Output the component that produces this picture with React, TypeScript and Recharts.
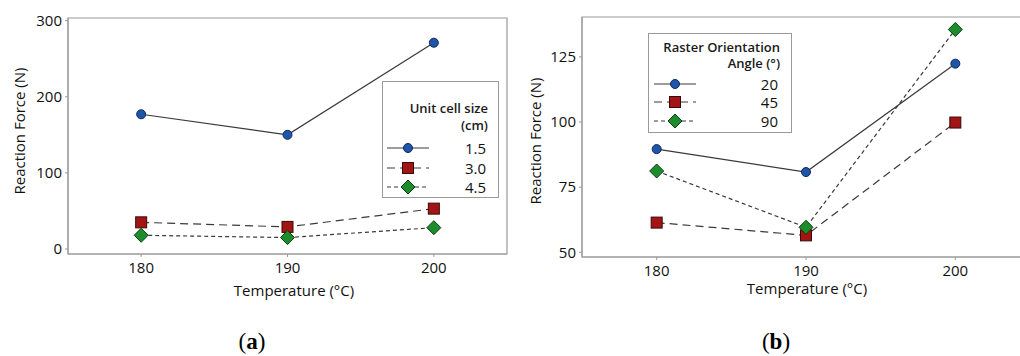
import React from 'react';
import { LineChart, Line, XAxis, YAxis, ReferenceArea } from 'recharts';

const temperatures = [180, 190, 200];
const tempTicks = [180, 190, 200];

// Panel (a): unit cell size (cm)
const cellSizeLabels = ['1.5', '3.0', '4.5'];
const cell15 = [177, 150, 271];
const cell30 = [35, 29, 53];
const cell45 = [18, 15, 28];
const forceTicksA = [0, 100, 200, 300];

// Panel (b): raster orientation angle (°)
const angleLabels = ['20', '45', '90'];
const angle20 = [89.6, 80.8, 122.4];
const angle45 = [61.4, 56.5, 99.8];
const angle90 = [81.2, 59.6, 135.5];
const forceTicksB = [50, 75, 100, 125];

const dataA = temperatures.map((t, i) => ({ t, s1: cell15[i], s2: cell30[i], s3: cell45[i] }));
const dataB = temperatures.map((t, i) => ({ t, s1: angle20[i], s2: angle45[i], s3: angle90[i] }));

const FONT = '"Open Sans", "DejaVu Sans", sans-serif';
const LINE = '#3a3a3a';
const FRAME = '#9a9a9a';

const BLUE = '#1f55a8';
const RED = '#a31515';
const GREEN = '#1d8c2c';

const CircleDot = (p: any) =>
  p.cx == null ? null : (
    <circle key={p.key} cx={p.cx} cy={p.cy} r={4.5} fill={BLUE} stroke="#0c2a5c" strokeWidth={1} />
  );
const SquareDot = (p: any) =>
  p.cx == null ? null : (
    <rect key={p.key} x={p.cx - 5.5} y={p.cy - 5.5} width={11} height={11} fill={RED} stroke="#3a0808" strokeWidth={1} />
  );
const DiamondDot = (p: any) =>
  p.cx == null ? null : (
    <polygon
      key={p.key}
      points={`${p.cx},${p.cy - 7} ${p.cx + 7},${p.cy} ${p.cx},${p.cy + 7} ${p.cx - 7},${p.cy}`}
      fill={GREEN}
      stroke="#0b3d12"
      strokeWidth={1}
    />
  );

const dashes = [undefined, '8 5', '4 3'];
const dots = [CircleDot, SquareDot, DiamondDot];

const tickStyle = { fontFamily: FONT, fontSize: 15, fill: '#111' };

function Panel({ data, domain, yTicks, width, margin }: any) {
  return (
    <LineChart width={width} height={356} data={data} margin={margin}>
      <ReferenceArea x1={175} x2={205} y1={domain[0]} y2={domain[1]} fill="none" stroke={FRAME} strokeWidth={1.2} />
      <XAxis
        dataKey="t"
        type="number"
        domain={[175, 205]}
        ticks={tempTicks}
        height={30}
        stroke={FRAME}
        tickSize={3}
        tickMargin={5}
        tick={tickStyle}
        allowDataOverflow
      />
      <YAxis
        type="number"
        domain={domain}
        ticks={yTicks}
        width={40}
        stroke={FRAME}
        tickSize={3}
        tickMargin={3}
        tick={tickStyle}
        allowDataOverflow
      />
      {['s1', 's2', 's3'].map((k, i) => (
        <Line
          key={k}
          dataKey={k}
          stroke={LINE}
          strokeWidth={1.2}
          strokeDasharray={dashes[i]}
          dot={dots[i]}
          activeDot={false}
          isAnimationActive={false}
        />
      ))}
    </LineChart>
  );
}

function LegendSample({ i }: { i: number }) {
  const Dot = dots[i];
  return (
    <svg width={44} height={14} style={{ display: 'block' }}>
      <line x1={1} y1={7} x2={43} y2={7} stroke={LINE} strokeWidth={1.2} strokeDasharray={dashes[i]} />
      {Dot({ cx: 22, cy: 7 })}
    </svg>
  );
}

function LegendBox({ left, top, width, height, title, labels, valueRight, sampleLeft, rowTops, titleTops, titleRight }: any) {
  return (
    <div
      style={{
        position: 'absolute',
        left,
        top,
        width,
        height,
        border: `1px solid ${FRAME}`,
        boxSizing: 'border-box',
        background: '#fff',
        fontFamily: FONT,
      }}
    >
      {title.map((t: string, i: number) => (
        <div
          key={t}
          style={{
            position: 'absolute',
            right: titleRight,
            top: titleTops[i],
            fontSize: 13,
            fontWeight: 600,
            lineHeight: '16px',
            color: '#1a1a1a',
            whiteSpace: 'nowrap',
          }}
        >
          {t}
        </div>
      ))}
      {labels.map((l: string, i: number) => (
        <React.Fragment key={l}>
          <div style={{ position: 'absolute', left: sampleLeft, top: rowTops[i] - 7 }}>
            <LegendSample i={i} />
          </div>
          <div
            style={{
              position: 'absolute',
              right: valueRight,
              top: rowTops[i] - 10,
              fontSize: 15,
              lineHeight: '20px',
              color: '#111',
            }}
          >
            {l}
          </div>
        </React.Fragment>
      ))}
    </div>
  );
}

export default function App() {
  const txt = { fontFamily: FONT, fontSize: 15, fill: '#111' };
  return (
    <div style={{ position: 'fixed', left: 0, top: 0, width: 1020, height: 356, overflow: 'hidden', background: '#fff' }}>
      <div style={{ position: 'absolute', left: 0, top: 0 }}>
        <Panel
          data={dataA}
          domain={[-6.6, 303.5]}
          yTicks={forceTicksA}
          width={510}
          margin={{ top: 18, right: 3, left: 28, bottom: 72 }}
        />
      </div>
      <div style={{ position: 'absolute', left: 510, top: 0 }}>
        <Panel
          data={dataB}
          domain={[48.2, 140.3]}
          yTicks={forceTicksB}
          width={530}
          margin={{ top: 17, right: 10, left: 32, bottom: 69 }}
        />
      </div>

      <LegendBox
        left={382}
        top={81}
        width={117}
        height={117}
        title={['Unit cell size', '(cm)']}
        titleTops={[18, 35]}
        titleRight={10}
        labels={cellSizeLabels}
        valueRight={12}
        sampleLeft={3}
        rowTops={[66, 86, 105]}
      />
      <LegendBox
        left={648}
        top={33}
        width={144}
        height={100}
        title={['Raster Orientation', 'Angle (°)']}
        titleTops={[5, 21]}
        titleRight={11}
        labels={angleLabels}
        valueRight={13}
        sampleLeft={4}
        rowTops={[50, 68, 87]}
      />

      <svg width={1020} height={356} style={{ position: 'absolute', left: 0, top: 0, pointerEvents: 'none' }}>
        <text {...txt} x={19} y={131} textAnchor="middle" dominantBaseline="central" transform="rotate(-90 19 131)">
          Reaction Force (N)
        </text>
        <text {...txt} x={294} y={290} textAnchor="middle" dominantBaseline="central">
          Temperature (°C)
        </text>
        <text {...txt} x={535} y={141} textAnchor="middle" dominantBaseline="central" transform="rotate(-90 535 141)">
          Reaction Force (N)
        </text>
        <text {...txt} x={807} y={288} textAnchor="middle" dominantBaseline="central">
          Temperature (°C)
        </text>
        <text x={252} y={341} textAnchor="middle" dominantBaseline="central" fontFamily='"Liberation Serif", serif' fontSize={23} fill="#000">
          (<tspan fontWeight="bold">a</tspan>)
        </text>
        <text x={776} y={341} textAnchor="middle" dominantBaseline="central" fontFamily='"Liberation Serif", serif' fontSize={23} fill="#000">
          (<tspan fontWeight="bold">b</tspan>)
        </text>
      </svg>
    </div>
  );
}
